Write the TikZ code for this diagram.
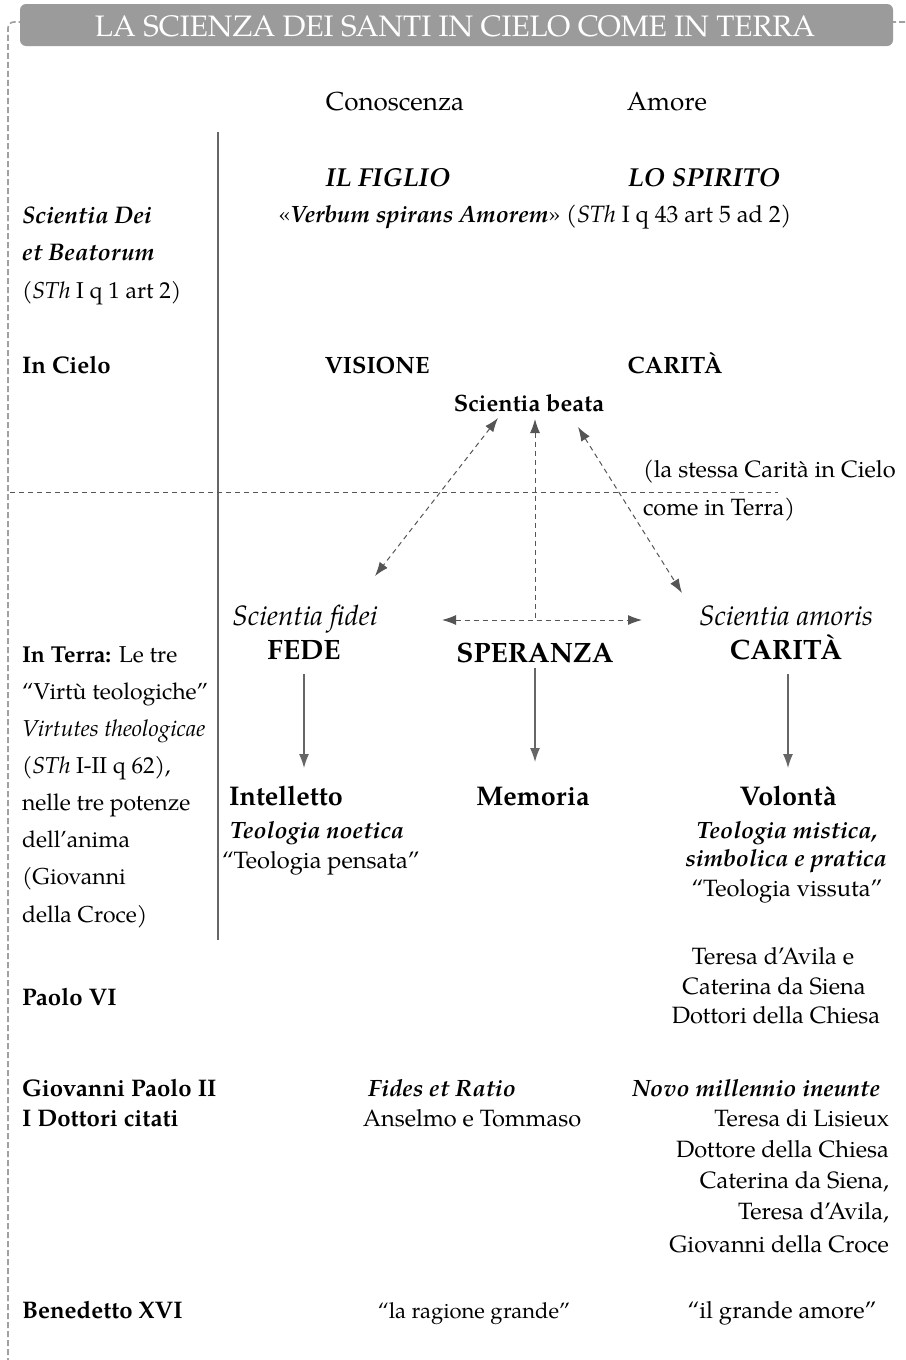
\documentclass[tikz,border=0pt]{standalone}
\usepackage{fontspec}
\setmainfont{TeX Gyre Pagella}
\usetikzlibrary{arrows.meta}
\definecolor{hdr}{HTML}{9B9B9B}
\definecolor{arr}{HTML}{555555}
\definecolor{framec}{HTML}{A0A0A0}
\definecolor{rule}{HTML}{666666}
\begin{document}
\begin{tikzpicture}[x=0.5pt,y=-0.5pt,
  every node/.style={inner sep=0pt,outer sep=0pt,font=\fontsize{11.8}{14}\selectfont},
  L/.style={anchor=base west},
  C/.style={anchor=base},
  R/.style={anchor=base east},
  lc/.style={font=\fontsize{11.5}{14}\selectfont},
  lcb/.style={font=\fontsize{12}{14}\selectfont\bfseries},
  lcbi/.style={font=\fontsize{12}{14}\selectfont\bfseries\itshape},
  nb/.style={font=\fontsize{11.8}{14}\selectfont\bfseries},
  nbi/.style={font=\fontsize{11.8}{14}\selectfont\bfseries\itshape},
  bigb/.style={font=\fontsize{14}{16}\selectfont\bfseries},
  midb/.style={font=\fontsize{13.5}{16}\selectfont\bfseries},
  bigi/.style={font=\fontsize{14}{16}\selectfont\itshape},
  head/.style={font=\fontsize{13}{15}\selectfont},
  solidarr/.style={draw=rule,line width=0.6pt,-{Latex[length=7pt,width=5pt]}},
  dasharr/.style={draw=arr,line width=0.5pt,dash pattern=on 2.5pt off 2pt,{Latex[length=7pt,width=5pt]}-{Latex[length=7pt,width=5pt]}},
  dashln/.style={draw=arr,line width=0.5pt,dash pattern=on 2.5pt off 2pt}
]
\clip (0,0) rectangle (905,1360);
% outer dashed frame
\draw[framec,line width=0.8pt,dash pattern=on 3pt off 1.5pt,rounded corners=3pt]
  (8,1400) -- (8,22) -- (22,22);
\draw[framec,line width=0.8pt,dash pattern=on 3pt off 1.5pt,rounded corners=3pt]
  (890,22) -- (912,22) -- (912,1400);
% header
\node[fill=hdr,rounded corners=3pt,minimum width=436.5pt,minimum height=21pt] (hdr) at (456.5,25) {};
\node[C,text=white,font=\fontsize{14.8}{17}\selectfont] (title) at (455,36) {LA SCIENZA DEI SANTI IN CIELO COME IN TERRA};

% rules
\coordinate (vt) at (218,132);
\coordinate (vb) at (218,940);
\draw[rule,line width=0.6pt] (vt) -- (vb);
\coordinate (hl) at (10,492);
\coordinate (hr) at (778,492);
\draw[dashln] (hl) -- (hr);

% column heads
\node[C,head] (con) at (395,110) {Conoscenza};
\node[C,head] (amo) at (667,110) {Amore};
\node[C,font=\fontsize{13}{15}\selectfont\bfseries\itshape] (fig) at (388,186) {IL FIGLIO};
\node[C,font=\fontsize{13}{15}\selectfont\bfseries\itshape] (spi) at (704,186) {LO SPIRITO};
\node[C] (verb) at (535,222) {«\textbf{\textit{Verbum spirans Amorem}}» (\textit{STh} I q 43 art 5 ad 2)};

% left column
\node[L,lcbi] (sd1) at (22,223) {Scientia Dei};
\node[L,lcbi] (sd2) at (22,260) {et Beatorum};
\node[L,lc] (sd3) at (22,298) {(\textit{STh} I q 1 art 2)};
\node[L,lcb] (cielo) at (22,373) {In Cielo};
\node[L,lc] (t1) at (22,662) {\textbf{In Terra:} Le tre};
\node[L,lc] (t2) at (22,699) {“Virtù teologiche”};
\node[L,lc] (t3) at (22,736) {\textit{Virtutes theologicae}};
\node[L,lc] (t4) at (22,773) {(\textit{STh} I-II q 62),};
\node[L,lc] (t5) at (22,810) {nelle tre potenze};
\node[L,lc] (t6) at (22,847) {dell’anima};
\node[L,lc] (t7) at (22,884) {(Giovanni};
\node[L,lc] (t8) at (22,922) {della Croce)};
\node[L,lcb] (p6) at (22,1005) {Paolo VI};
\node[L,lcb] (gp1) at (22,1096) {Giovanni Paolo II};
\node[L,lcb] (gp2) at (22,1126) {I Dottori citati};
\node[L,lcb] (b16) at (22,1318) {Benedetto XVI};

% In Cielo row
\node[C,nb] (vis) at (377,373) {VISIONE};
\node[C,nb] (car1) at (675,373) {CARITÀ};
\node[C,nb] (beata) at (529,411) {Scientia beata};
\node[L] (ls1) at (643,477) {(la stessa Carità in Cielo};
\node[L] (ls2) at (643,515) {come in Terra)};

% In Terra row
\node[C,bigi] (sf) at (305,625) {Scientia fidei};
\node[C,bigb] (fede) at (304,659) {FEDE};
\node[C,bigb] (spe) at (535,662) {SPERANZA};
\node[C,bigi] (sa) at (786,625) {Scientia amoris};
\node[C,bigb] (car2) at (786,659) {CARITÀ};

\node[L,midb] (int) at (229,805) {Intelletto};
\node[L,nbi] (tn) at (230,838) {Teologia noetica};
\node[C] (tp) at (321,868) {“Teologia pensata”};
\node[C,midb] (mem) at (533,805) {Memoria};
\node[C,midb] (vol) at (788,805) {Volontà};
\node[C,nbi] (tm1) at (787,838) {Teologia mistica,};
\node[C,nbi] (tm2) at (786,866) {simbolica e pratica};
\node[C] (tv) at (787,896) {“Teologia vissuta”};

% Paolo VI
\node[C] (pa1) at (773,964) {Teresa d’Avila e};
\node[C] (pa2) at (774,994) {Caterina da Siena};
\node[C] (pa3) at (776,1023) {Dottori della Chiesa};

% Giovanni Paolo II
\node[C,nbi] (fr) at (442,1096) {Fides et Ratio};
\node[C] (at) at (472,1126) {Anselmo e Tommaso};
\node[R,nbi] (nmi) at (880,1096) {Novo millennio ineunte};
\node[R] (g1) at (889,1126) {Teresa di Lisieux};
\node[R] (g2) at (889,1157) {Dottore della Chiesa};
\node[R] (g3) at (889,1188) {Caterina da Siena,};
\node[R] (g4) at (889,1219) {Teresa d’Avila,};
\node[R] (g5) at (889,1252) {Giovanni della Croce};

% Benedetto XVI
\node[C,font=\fontsize{11}{13}\selectfont] (rg) at (474,1318) {“la ragione grande”};
\node[C] (ga) at (782,1318) {“il grande amore”};

% solid arrows
\coordinate (fa) at (304,674); \coordinate (fb) at (304,768);
\coordinate (sa1) at (535,668); \coordinate (sb1) at (535,762);
\coordinate (ca) at (788,674); \coordinate (cb) at (788,768);
\draw[solidarr] (fa) -- (fb);
\draw[solidarr] (sa1) -- (sb1);
\draw[solidarr] (ca) -- (cb);

% dashed arrows
\coordinate (dl1) at (498,418); \coordinate (dl2) at (375,576);
\coordinate (dr1) at (578,427); \coordinate (dr2) at (682,593);
\coordinate (dv1) at (535,419); \coordinate (dv2) at (535,620);
\coordinate (dh1) at (442,620); \coordinate (dh2) at (642,620);
\draw[dasharr] (dl1) -- (dl2);
\draw[dasharr] (dr1) -- (dr2);
\draw[dashln,{Latex[length=7pt,width=5pt]}-] (dv1) -- (dv2);
\draw[dasharr] (dh1) -- (dh2);
\end{tikzpicture}
\end{document}
